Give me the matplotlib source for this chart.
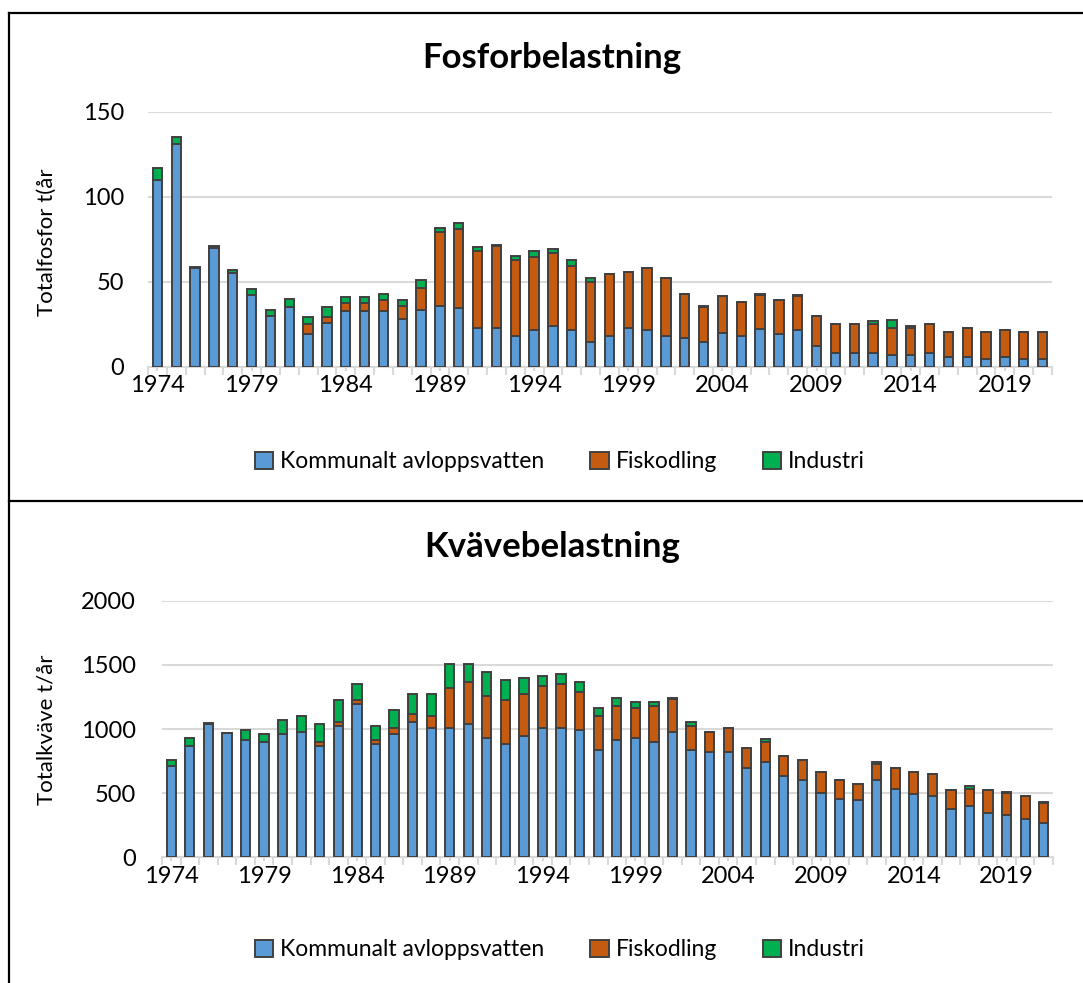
import matplotlib.pyplot as plt
from matplotlib.lines import Line2D
from matplotlib.patches import Patch
import numpy as np

years = list(range(1974, 2022))

# Fosfor (ton/år)
p_kommunal = [110, 131, 58, 70, 55, 42, 30, 35, 19.5, 25.7, 33, 33, 33, 28, 33.5, 35.5,
              34.5, 22.6, 22.6, 18, 21.4, 24, 21.4, 14.3, 18, 22.6, 21.4, 18, 16.7, 14.3,
              20, 18, 22.4, 19, 21.4, 12, 8.3, 8.3, 8.3, 7.1, 7.1, 8.3, 6, 6, 4.8, 6, 4.8, 4.8]
p_fisk = [0, 0, 0, 0, 0, 0, 0, 0, 5.5, 3.5, 4.6, 4.5, 6, 8, 13, 43.5,
          46.5, 45.3, 48.5, 45, 43, 43, 38, 35.7, 36.5, 33, 36.5, 34, 26, 21,
          21.5, 20, 20, 20.3, 20.3, 17.8, 16.7, 16.7, 16.7, 15.5, 15.5, 16.7, 14.2, 16.6, 15.4, 15.4, 15.4, 15.4]
p_industri = [7, 4, 0.6, 1, 2, 3.6, 3.6, 4.8, 4, 6, 3.6, 3.5, 3.5, 3.5, 4.7, 2.5,
              3.5, 2.3, 0.3, 2.4, 3.6, 2.3, 3.6, 2.4, 0.3, 0.3, 0.3, 0.3, 0.2, 0.2,
              0.2, 0.2, 0.2, 0.2, 0.2, 0.2, 0.2, 0.2, 1.6, 4.8, 1.6, 0.2, 0.2, 0.2, 0.2, 0.2, 0.2, 0.2]

# Kväve (ton/år)
n_kommunal = [708, 865, 1040, 965, 911, 896, 958, 974, 865, 1021, 1193, 880, 958, 1052, 1005, 1005,
              1036, 927, 880, 943, 1005, 1005, 990, 833, 911, 927, 896, 974, 833, 818,
              818, 693, 740, 630, 599, 505, 458, 443, 599, 536, 490, 474, 380, 396, 349, 333, 302, 271]
n_fisk = [0, 0, 0, 0, 0, 0, 0, 0, 31, 31, 31, 31, 47, 62, 94, 313,
          328, 328, 344, 328, 328, 344, 296, 266, 266, 234, 281, 260, 188, 156,
          187, 156, 161, 156, 156, 156, 141, 125, 125, 157, 171, 172, 141, 140, 172, 172, 172, 156]
n_industri = [47, 62, 8, 6, 79, 62, 110, 125, 140, 172, 125, 110, 141, 157, 172, 187,
              141, 188, 156, 125, 78, 78, 78, 62, 63, 47, 31, 4, 31, 3,
              3, 3, 22, 3, 3, 3, 3, 3, 22, 3, 3, 3, 3, 20, 3, 3, 3, 3]

series_names = ["Kommunalt avloppsvatten", "Fiskodling", "Industri"]
colors = ["#5b9bd5", "#c55a11", "#00b050"]
edge = "#404040"

plt.rcParams['font.family'] = ['Lato', 'DejaVu Sans']

W, H = 1083, 983
fig = plt.figure(figsize=(W / 100, H / 100), dpi=100)


def px_axes(x0, y_top, x1, y_bot):
    return fig.add_axes([x0 / W, 1 - y_bot / H, (x1 - x0) / W, (y_bot - y_top) / H])


def draw_panel(ax, k, f, i, ymax, ystep, title, ylabel, title_y, legend_y, ylabel_y, ypad):
    x = np.arange(len(years))
    k = np.array(k); f = np.array(f); i = np.array(i)
    kw = dict(width=0.5, edgecolor=edge, linewidth=1.4, zorder=3)
    ax.bar(x, k, color=colors[0], **kw)
    ax.bar(x, f, bottom=k, color=colors[1], **kw)
    ax.bar(x, i, bottom=k + f, color=colors[2], **kw)

    ax.set_xlim(-0.5, len(years) - 0.5)
    ax.set_ylim(0, ymax)
    ax.set_yticks(np.arange(0, ymax + 1, ystep))
    ax.grid(axis='y', color='#d9d9d9', linewidth=1.5, zorder=0)
    ax.set_axisbelow(True)
    for s in ['top', 'right', 'left']:
        ax.spines[s].set_visible(False)
    ax.spines['bottom'].set_color('#d9d9d9')
    ax.spines['bottom'].set_linewidth(1.5)

    ax.set_xticks(x[::5])
    ax.set_xticklabels([str(y) for y in years[::5]])
    ax.set_xticks(np.arange(-0.5, len(years), 1), minor=True)
    ax.tick_params(axis='x', which='major', length=3, color='#d9d9d9', width=1.5,
                   labelsize=17, pad=3)
    ax.tick_params(axis='x', which='minor', length=6, color='#d9d9d9', width=1.5)
    ax.tick_params(axis='y', length=0, labelsize=17, pad=ypad)

    fig.text(552 / W, 1 - title_y / H, title, ha='center', va='center',
             fontsize=25, fontweight='bold')
    fig.text(47 / W, 1 - ylabel_y / H, ylabel, ha='center', va='center',
             rotation=90, fontsize=16)

    handles = [Patch(facecolor=c, edgecolor=edge, linewidth=1.4) for c in colors]
    fig.legend(handles, series_names, loc='center', ncol=3, frameon=False,
               bbox_to_anchor=(560 / W, 1 - legend_y / H), fontsize=16.5,
               handlelength=0.8, handleheight=0.8, handletextpad=0.3, columnspacing=2.0)


ax1 = px_axes(148, 111.7, 1052, 366.7)
draw_panel(ax1, p_kommunal, p_fisk, p_industri, 150, 50, "Fosforbelastning",
           "Totalfosfor t(år", 58, 462, 242, 17)

ax2 = px_axes(162, 600.7, 1053, 857.3)
draw_panel(ax2, n_kommunal, n_fisk, n_industri, 2000, 500, "Kvävebelastning",
           "Totalkväve t/år", 547, 950, 730, 19)

# panel borders
for xs, ys in [([9, W], [13, 13]), ([9, W], [501, 501]), ([9, 9], [13, H])]:
    fig.add_artist(Line2D([x / W for x in xs], [1 - y / H for y in ys],
                          color='black', linewidth=1.6))

fig.savefig("out.png", dpi=100)
